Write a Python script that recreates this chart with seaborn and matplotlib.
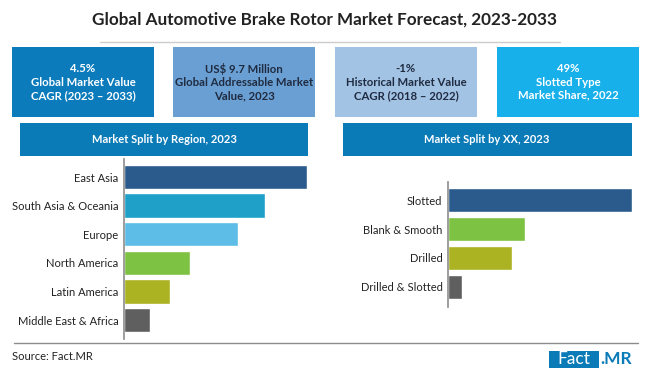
import matplotlib
matplotlib.use("Agg")
import matplotlib.pyplot as plt
from matplotlib.patches import Rectangle
import seaborn as sns
import pandas as pd

sns.set_style("white")
plt.rcParams["font.family"] = ["Lato", "DejaVu Sans"]

# 数据
regions = ["East Asia", "South Asia & Oceania", "Europe", "North America",
           "Latin America", "Middle East & Africa"]
region_share = [31.8, 24.5, 19.8, 11.5, 8.0, 4.5]
region_colors = ["#2b5b8c", "#1fa0c8", "#5dbde6", "#7dc242", "#abb322", "#5f5f5f"]

types = ["Slotted", "Blank & Smooth", "Drilled", "Drilled & Slotted"]
type_share = [49.0, 20.5, 17.0, 3.7]
type_colors = ["#2b5b8c", "#7dc242", "#abb322", "#5f5f5f"]

kpi_texts = ["4.5%\nGlobal Market Value\nCAGR (2023 – 2033)",
             "US$ 9.7 Million\nGlobal Addressable Market\nValue, 2023",
             "-1%\nHistorical Market Value\nCAGR (2018 – 2022)",
             "49%\nSlotted Type\nMarket Share, 2022"]
kpi_colors = ["#0b7bbb", "#6a9fd3", "#a3c3e5", "#18b0ea"]
kpi_text_colors = ["white", "#1f2b40", "#1f2b40", "white"]

W, H = 650, 377
fig = plt.figure(figsize=(W / 100, H / 100), dpi=100)


def box(x0, y0, x1, y1):
    # 像素坐标(左上原点) -> figure 坐标
    return [x0 / W, 1 - y1 / H, (x1 - x0) / W, (y1 - y0) / H]


def rect(x0, y0, x1, y1, color):
    b = box(x0, y0, x1, y1)
    fig.add_artist(Rectangle((b[0], b[1]), b[2], b[3], transform=fig.transFigure,
                             facecolor=color, edgecolor="none"))


def ftext(x, y, s, **kw):
    fig.text(x / W, 1 - y / H, s, **kw)


# 标题
ftext(325, 20, "Global Automotive Brake Rotor Market Forecast, 2023-2033",
      ha="center", va="center", fontsize=12.3, fontweight="bold", color="#222222")
fig.add_artist(plt.Line2D([100 / W, 560 / W], [1 - 42 / H, 1 - 42 / H],
                          transform=fig.transFigure, color="#cccccc", lw=1))

# KPI 方块
kpi_x = [12, 173, 335, 497]
for x0, s, c, tc in zip(kpi_x, kpi_texts, kpi_colors, kpi_text_colors):
    rect(x0, 47, x0 + 142, 117, c)
    ftext(x0 + 71, 82, s, ha="center", va="center", fontsize=8.2,
          fontweight="bold", color=tc, linespacing=1.25)

# 小标题栏
rect(20, 123, 308, 156, "#0b7bb8")
ftext(164, 139.5, "Market Split by Region, 2023", ha="center", va="center",
      fontsize=8, fontweight="bold", color="white")
rect(343, 123, 632, 156, "#0b7bb8")
ftext(487, 139.5, "Market Split by XX, 2023", ha="center", va="center",
      fontsize=8, fontweight="bold", color="white")


def bar_panel(pos, cats, vals, colors, ylim):
    ax = fig.add_axes(pos)
    df = pd.DataFrame({"cat": cats, "val": vals})
    sns.barplot(data=df, y="cat", x="val", hue="cat", palette=colors,
                legend=False, ax=ax, width=0.85, saturation=1)
    ax.set_xlim(0, max(vals))
    ax.set_ylim(*ylim)
    ax.set_xlabel("")
    ax.set_ylabel("")
    ax.set_xticks([])
    ax.tick_params(axis="y", length=0, pad=4, labelsize=8, labelcolor="#222222")
    for s in ["top", "right", "bottom"]:
        ax.spines[s].set_visible(False)
    ax.spines["left"].set_color("#8c8c8c")
    ax.spines["left"].set_linewidth(1.2)
    ax.patch.set_alpha(0)
    return ax


bar_panel(box(124, 159, 307, 339), regions, region_share, region_colors, (5.66, -0.63))
bar_panel(box(448, 182, 632, 307), types, type_share, type_colors, (3.7, -0.63))

# 底部
fig.add_artist(plt.Line2D([14 / W, 638 / W], [1 - 343 / H, 1 - 343 / H],
                          transform=fig.transFigure, color="#8c8c8c", lw=1))
ftext(12, 357, "Source: Fact.MR", ha="left", va="center", fontsize=8, color="#222222")
rect(549, 351, 599, 368, "#0b7bb8")
ftext(574, 359.5, "Fact", ha="center", va="center", fontsize=12.5, color="white")
ftext(600, 359.5, ".MR", ha="left", va="center", fontsize=12.5,
      fontweight="bold", color="#0b7bb8")

fig.savefig("out.png", dpi=100)
